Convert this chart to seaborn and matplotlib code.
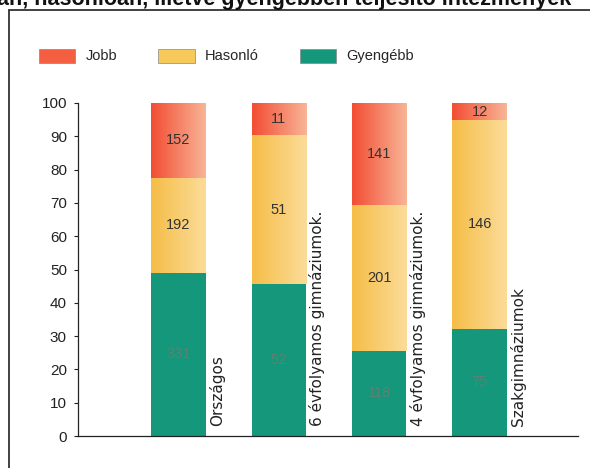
import numpy as np
import pandas as pd
import matplotlib
matplotlib.use("Agg")
import matplotlib.pyplot as plt
import seaborn as sns
from matplotlib.patches import Patch
from matplotlib.lines import Line2D
from matplotlib.colors import LinearSegmentedColormap

# Adatok (intézmények száma)
kategoriak = ["Országos", "6 évfolyamos gimnáziumok.", "4 évfolyamos gimnáziumok.", "Szakgimnáziumok"]
gyengebb = [331, 52, 118, 75]
hasonlo = [192, 51, 201, 146]
jobb = [152, 11, 141, 12]

df = pd.DataFrame({"kat": kategoriak, "Gyengébb": gyengebb, "Hasonló": hasonlo, "Jobb": jobb})
df["ossz"] = df["Gyengébb"] + df["Hasonló"] + df["Jobb"]
df["p_gy"] = df["Gyengébb"] / df["ossz"] * 100
df["p_ha"] = df["Hasonló"] / df["ossz"] * 100
df["p_jo"] = df["Jobb"] / df["ossz"] * 100
df["c_gy"] = df["p_gy"]
df["c_ha"] = df["p_gy"] + df["p_ha"]
df["c_jo"] = df["c_ha"] + df["p_jo"]

sns.set_style("white")
plt.rcParams["font.family"] = ["Liberation Sans", "DejaVu Sans"]

fig = plt.figure(figsize=(5.9, 4.68), dpi=100)
ax = fig.add_axes([78 / 590, 32 / 468, 500 / 590, 333 / 468])

piros = "#f45f42"
sarga = "#f7c85a"
zold = "#14977a"
szel = 0.54

# egymásra rakott oszlopok: teljes magasságtól lefelé
gradiensek = []
for nev, felso, also, szin, grad in [("Jobb", "c_jo", "c_ha", piros, ("#f24e34", "#f8b496")),
                                     ("Hasonló", "c_ha", "c_gy", sarga, ("#f5bd48", "#fbdc98")),
                                     ("Gyengébb", "c_gy", None, zold, None)]:
    n0 = len(ax.patches)
    sns.barplot(data=df, x="kat", y=felso, color=szin, width=szel, ax=ax,
                saturation=1, edgecolor="none", linewidth=0)
    if grad is not None:
        gradiensek.append((nev, ax.patches[n0:], df[also].values, grad))

# színátmenet a piros és sárga szakaszokon
for nev, patches, alja, grad in gradiensek:
    cmap = LinearSegmentedColormap.from_list(nev, list(grad))
    for p, y0 in zip(patches, alja):
        x0, w = p.get_x(), p.get_width()
        y1 = p.get_y() + p.get_height()
        img = ax.imshow(np.linspace(0, 1, 64).reshape(1, -1), cmap=cmap, aspect="auto",
                        extent=[x0, x0 + w, y0, y1], zorder=p.get_zorder() + 0.1)
        img.set_clip_path(p)
        p.set_facecolor("none")

# értékcímkék
for i in range(len(df)):
    ax.text(i, df["p_gy"][i] / 2, str(gyengebb[i]), ha="center", va="center",
            fontsize=10.5, color="#5b8274", zorder=5)
    ax.text(i, df["c_gy"][i] + df["p_ha"][i] / 2, str(hasonlo[i]), ha="center", va="center",
            fontsize=10.5, color="#333333", zorder=5)
    ax.text(i, df["c_ha"][i] + df["p_jo"][i] / 2, str(jobb[i]), ha="center", va="center",
            fontsize=10.5, color="#333333", zorder=5)
    ax.text(i + 0.385, 3, kategoriak[i], rotation=90, ha="center", va="bottom",
            fontsize=11, family="DejaVu Sans", color="#222222", zorder=5)

ax.set_xlim(-1.0, 3.98)
ax.set_ylim(0, 100)
ax.set_yticks(range(0, 101, 10))
ax.set_xticks([])
ax.set_xlabel("")
ax.set_ylabel("")
ax.tick_params(axis="y", left=True, length=3, width=0.8, labelsize=11, pad=5, colors="#222222")
for s in ["top", "right"]:
    ax.spines[s].set_visible(False)
for s in ["left", "bottom"]:
    ax.spines[s].set_color("#222222")
    ax.spines[s].set_linewidth(0.9)

kezelok = [Patch(facecolor=piros, edgecolor="#888888", linewidth=0.5, label="Jobb"),
           Patch(facecolor=sarga, edgecolor="#888888", linewidth=0.5, label="Hasonló"),
           Patch(facecolor=zold, edgecolor="#888888", linewidth=0.5, label="Gyengébb")]
fig.legend(handles=kezelok, loc="center left", bbox_to_anchor=(39 / 590, 1 - 56 / 468),
           ncol=3, frameon=False, fontsize=10.5, handlelength=2.5, handleheight=1.1,
           handletextpad=0.7, columnspacing=2.8, borderaxespad=0, borderpad=0)

# keret
fig.add_artist(Line2D([9 / 590, 9 / 590], [0, 1 - 10 / 468], transform=fig.transFigure,
                      color="#333333", linewidth=1.3))
fig.add_artist(Line2D([9 / 590, 1], [1 - 10 / 468, 1 - 10 / 468], transform=fig.transFigure,
                      color="#333333", linewidth=1.3))

# levágott cím a kép tetején
fig.text(-0.005, 1 - 5 / 468, "an, hasonlóan, illetve gyengébben teljesítő intézmények",
         fontsize=15.5, fontweight="bold", color="#111111", va="baseline", ha="left")

fig.savefig("out.png", dpi=100)
